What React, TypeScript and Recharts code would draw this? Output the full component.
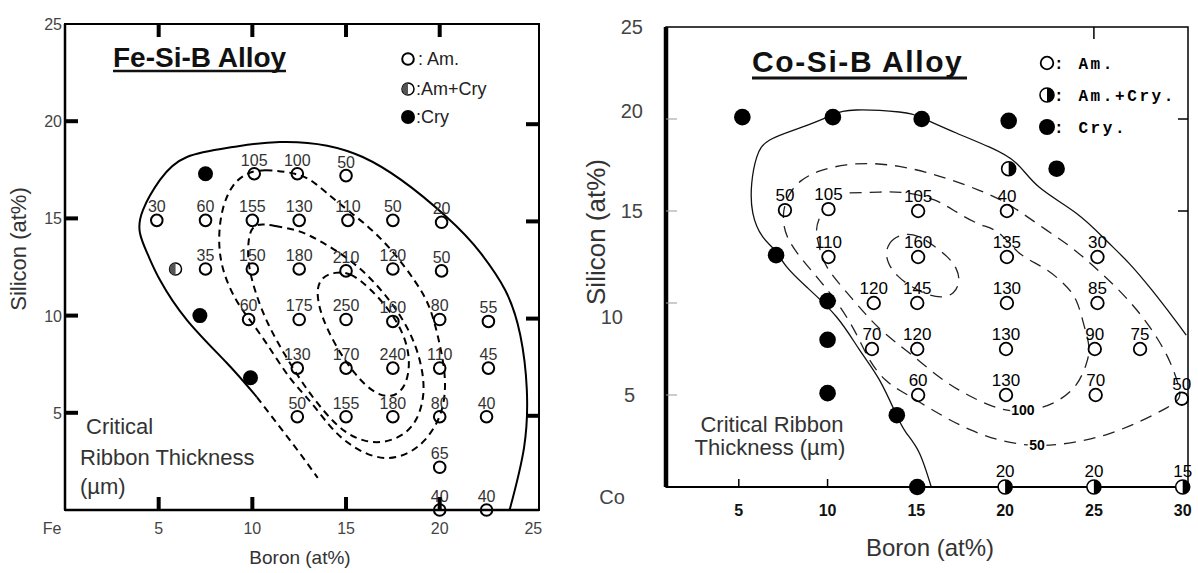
import React from "react";
import { ScatterChart, Scatter, XAxis, YAxis, ReferenceArea, Legend } from "recharts";

const SANS = "'Liberation Sans', Arial, sans-serif";
const MONO = "'Liberation Mono', 'DejaVu Sans Mono', monospace";

// ---------- Fe-Si-B (left panel) ----------
const feTicksX = [5, 10, 15, 20, 25];
const feTicksY = [0, 5, 10, 15, 20, 25];
const feFrameTicks = [5, 10, 15, 20];

// amorphous samples: boron, silicon, critical thickness (um)
const feAm = [
  { x: 10.1, y: 17.3, t: "105" }, { x: 12.4, y: 17.3, t: "100" }, { x: 15, y: 17.2, t: "50" },
  { x: 4.9, y: 14.9, t: "30" }, { x: 7.5, y: 14.9, t: "60" }, { x: 10, y: 14.9, t: "155" },
  { x: 12.5, y: 14.9, t: "130" }, { x: 15.1, y: 14.9, t: "110" }, { x: 17.5, y: 14.9, t: "50" },
  { x: 20.1, y: 14.8, t: "20" },
  { x: 7.5, y: 12.4, t: "35" }, { x: 10, y: 12.4, t: "150" }, { x: 12.5, y: 12.4, t: "180" },
  { x: 15, y: 12.3, t: "210" }, { x: 17.5, y: 12.4, t: "120" }, { x: 20.1, y: 12.3, t: "50" },
  { x: 9.8, y: 9.8, t: "60" }, { x: 12.5, y: 9.8, t: "175" }, { x: 15, y: 9.8, t: "250" },
  { x: 17.5, y: 9.7, t: "160" }, { x: 20, y: 9.8, t: "80" }, { x: 22.6, y: 9.7, t: "55" },
  { x: 12.4, y: 7.3, t: "130" }, { x: 15, y: 7.3, t: "170" }, { x: 17.5, y: 7.3, t: "240" },
  { x: 20, y: 7.3, t: "110" }, { x: 22.6, y: 7.3, t: "45" },
  { x: 12.4, y: 4.8, t: "50" }, { x: 15, y: 4.8, t: "155" }, { x: 17.5, y: 4.8, t: "180" },
  { x: 20, y: 4.8, t: "80" }, { x: 22.5, y: 4.8, t: "40" },
  { x: 20, y: 2.2, t: "65" }, { x: 20, y: 0, t: "40" }, { x: 22.5, y: 0, t: "40" },
];
const feAmCry = [{ x: 5.9, y: 12.4 }];
const feCry = [{ x: 7.5, y: 17.3 }, { x: 7.2, y: 10 }, { x: 9.9, y: 6.8 }];

// glass-forming boundary (solid) and its dashed tail
const feEdge = [
  [10.24, 5.81], [8.64, 7.56], [6.51, 9.77], [5.07, 11.83], [4.43, 13.12], [4.0, 14.25],
  [4.16, 15.43], [5.07, 16.98], [6.51, 18.16], [8.96, 18.67], [11.47, 18.93], [15.89, 18.16],
  [20.37, 15.07], [22.2, 13.2], [23.5, 11.3], [24.3, 9.0], [24.65, 6.2], [24.5, 3.2], [23.73, 0],
];
const feEdgeTail = [[10.24, 5.81], [12.53, 2.93], [13.49, 1.65]];
// iso-thickness contours
const feC1 = [
  [9.71, 17.34], [10.51, 17.54], [12.43, 17.34], [13.33, 16.87], [14.51, 15.84], [16.27, 14.56],
  [17.6, 13.22], [18.77, 11.68], [19.47, 10.55], [19.9, 9.0], [20.27, 7.3], [20.32, 5.92],
  [20.0, 4.63], [19.2, 3.5], [18.4, 2.93], [17.33, 2.57], [16.11, 2.83], [15.04, 3.45],
  [14.13, 4.27], [13.07, 5.66], [12.0, 6.69], [10.77, 8.59], [9.87, 9.77], [9.07, 10.8],
  [8.37, 12.35], [8.16, 13.89], [8.37, 15.59], [8.96, 16.82],
];
const feC2 = [
  [10.03, 14.81], [11.2, 14.61], [12.53, 14.4], [13.71, 13.79], [15.04, 13.01], [16.27, 11.99],
  [17.33, 10.8], [18.13, 9.67], [18.72, 8.49], [19.09, 7.2], [19.2, 5.92], [18.83, 4.63],
  [18.13, 3.86], [17.07, 3.45], [16.0, 3.5], [14.93, 3.96], [13.87, 4.99], [12.8, 6.33],
  [11.73, 7.97], [10.83, 9.52], [10.19, 11.06], [9.76, 12.6], [9.76, 13.89],
];
const feC3 = [
  [14.4, 12.24], [15.2, 12.24], [16.27, 11.42], [17.33, 10.29], [18.13, 9.0], [18.45, 7.61],
  [18.19, 6.28], [17.44, 5.76], [16.53, 5.97], [15.47, 6.94], [14.4, 8.49], [13.65, 10.03],
  [13.39, 11.32], [13.71, 11.99],
];

// ---------- Co-Si-B (right panel) ----------
const coTicksX = [5, 10, 15, 20, 25, 30];
const coTicksY = [0, 5, 10, 15, 20, 25];

const coAm = [
  { x: 7.6, y: 15.05, t: "50" }, { x: 10.05, y: 15.1, t: "105" }, { x: 15.1, y: 15, t: "105" },
  { x: 20.1, y: 15, t: "40" },
  { x: 10.05, y: 12.5, t: "110" }, { x: 15.1, y: 12.5, t: "160" }, { x: 20.1, y: 12.5, t: "135" },
  { x: 25.2, y: 12.5, t: "30" },
  { x: 12.6, y: 10, t: "120" }, { x: 15.05, y: 10, t: "145" }, { x: 20.1, y: 10, t: "130" },
  { x: 25.2, y: 10, t: "85" },
  { x: 12.5, y: 7.5, t: "70" }, { x: 15.05, y: 7.5, t: "120" }, { x: 20.05, y: 7.5, t: "130" },
  { x: 25.05, y: 7.5, t: "90" }, { x: 27.6, y: 7.5, t: "75" },
  { x: 15.1, y: 5, t: "60" }, { x: 20.05, y: 5, t: "130" }, { x: 25.1, y: 5, t: "70" },
  { x: 29.95, y: 4.8, t: "50" },
];
const coAmCry = [
  { x: 20.2, y: 17.3, t: "" }, { x: 20, y: 0, t: "20" }, { x: 25, y: 0, t: "20" }, { x: 30, y: 0, t: "15" },
];
const coCry = [
  { x: 5.2, y: 20.1 }, { x: 10.3, y: 20.1 }, { x: 15.3, y: 20 }, { x: 20.2, y: 19.9 },
  { x: 22.9, y: 17.3 }, { x: 7.1, y: 12.6 }, { x: 10, y: 10.1 }, { x: 10, y: 8 },
  { x: 10, y: 5.1 }, { x: 13.9, y: 3.9 }, { x: 15.05, y: 0 },
];
const coEdge = [
  [15.84, 0], [15.17, 1.85], [14.44, 2.93], [13.88, 3.91], [12.92, 5.82], [11.8, 7.45],
  [10.51, 9.24], [8.82, 10.87], [7.7, 11.96], [7.02, 12.88], [6.35, 13.59], [5.79, 14.89],
  [5.73, 16.52], [6.01, 17.93], [6.74, 18.86], [8.6, 19.57], [10.28, 20.22], [11.63, 20.49],
  [14.04, 20.38], [15.34, 20.05], [17.25, 19.24], [19.1, 18.48], [20.62, 17.61], [21.91, 16.3],
  [23.99, 14.89], [25.67, 13.42], [26.97, 12.17], [28.26, 10.71], [29.49, 9.18], [30.2, 8.26],
];
const coD50 = [
  [29.94, 4.78], [29.78, 5.54], [29.33, 6.79], [28.65, 7.99], [27.81, 9.18], [26.85, 10.27],
  [25.84, 11.25], [24.72, 12.23], [23.6, 13.15], [22.3, 13.97], [20.96, 14.89], [19.83, 15.6],
  [18.54, 16.14], [17.02, 16.68], [15.56, 17.12], [14.04, 17.45], [12.53, 17.61], [11.07, 17.55],
  [9.55, 17.23], [8.43, 16.68], [7.75, 15.87], [7.42, 14.78], [7.64, 13.59], [8.43, 12.5],
  [9.55, 11.25], [10.67, 9.89], [11.63, 8.37], [12.36, 6.79], [13.3, 5.7], [14.04, 5.27],
  [15.17, 4.62], [16.57, 3.8], [17.98, 3.1], [19.66, 2.5], [21.74, 2.17], [23.88, 2.39],
  [25.84, 2.83], [27.81, 3.64], [29.21, 4.35],
];
const coD100 = [
  [11.24, 15.98], [12.92, 16.03], [14.44, 15.98], [16.01, 15.6], [17.25, 14.95], [18.54, 14.29],
  [19.66, 13.8], [20.79, 12.72], [22.08, 11.96], [23.2, 11.14], [23.99, 10.16], [24.44, 8.8],
  [24.72, 7.61], [24.55, 6.63], [23.99, 5.54], [23.03, 4.73], [21.91, 4.29], [20.51, 4.13],
  [19.1, 4.46], [17.7, 5.11], [16.29, 5.98], [14.61, 7.28], [13.2, 8.37], [12.08, 9.46],
  [10.96, 10.71], [10.0, 11.9], [9.55, 12.99], [9.38, 13.97], [9.55, 14.62],
];
const coD150 = [
  [14.44, 13.8], [13.65, 13.53], [13.26, 12.88], [13.37, 12.17], [13.88, 11.47], [14.72, 10.87],
  [15.62, 10.43], [16.46, 10.27], [17.13, 10.49], [17.47, 11.14], [17.3, 11.9], [16.74, 12.55],
  [16.01, 13.1], [15.17, 13.64],
];
const coContourTags = [{ x: 21.0, y: 4.18, t: "100" }, { x: 21.8, y: 2.28, t: "50" }];

const pts = (a: number[][]) => a.map(([x, y]) => ({ x, y }));

// layout (px)
const FE = { w: 560, top: 24, right: 21, xh: 63, yw: 65, x0: 0, x1: 25.3 };
const CO = { left: 580, w: 618, top: 27, right: 10, xh: 86, yw: 86, x0: 0.9, x1: 30.3 };
const H = 573;

// plot-box geometry on the page, matching the chart margins above
const feBox = { l: FE.yw, r: FE.w - FE.right, t: FE.top, b: H - FE.xh };
const coBox = { l: CO.left + CO.yw, r: CO.left + CO.w - CO.right, t: CO.top, b: H - CO.xh };
const feX = (v: number) => feBox.l + ((v - FE.x0) / (FE.x1 - FE.x0)) * (feBox.r - feBox.l);
const feY = (v: number) => feBox.b - (v / 25) * (feBox.b - feBox.t);
const coX = (v: number) => coBox.l + ((v - CO.x0) / (CO.x1 - CO.x0)) * (coBox.r - coBox.l);
const coY = (v: number) => coBox.b - (v / 25) * (coBox.b - coBox.t);

const noDot = () => <g />;

const feOpen = (p: any) => (
  <g>
    <circle cx={p.cx} cy={p.cy} r={5.8} fill="none" stroke="#000" strokeWidth={2} />
    <text x={p.cx} y={p.cy - 8} textAnchor="middle" fontSize={16} fill="#333" fontFamily={SANS}>
      {p.payload?.t}
    </text>
  </g>
);
const feHalf = (p: any) => (
  <g>
    <circle cx={p.cx} cy={p.cy} r={6} fill="#fff" stroke="#000" strokeWidth={1.5} />
    <path d={`M ${p.cx} ${p.cy - 6} A 6 6 0 0 0 ${p.cx} ${p.cy + 6} Z`} fill="#555" />
  </g>
);
const feFilled = (p: any) => <circle cx={p.cx} cy={p.cy} r={7.5} fill="#000" />;

const coOpen = (p: any) => (
  <g>
    <circle cx={p.cx} cy={p.cy} r={6.3} fill="none" stroke="#000" strokeWidth={1.8} />
    {p.payload?.t ? (
      <text x={p.cx} y={p.cy - 9} textAnchor="middle" fontSize={17} fill="#000" fontFamily={SANS}>
        {p.payload.t}
      </text>
    ) : null}
  </g>
);
const coHalf = (p: any) => (
  <g>
    <circle cx={p.cx} cy={p.cy} r={7} fill="#fff" stroke="#000" strokeWidth={1.6} />
    <path d={`M ${p.cx} ${p.cy - 7} A 7 7 0 0 1 ${p.cx} ${p.cy + 7} Z`} fill="#000" />
    {p.payload?.t ? (
      <text x={p.cx} y={p.cy - 10} textAnchor="middle" fontSize={17} fill="#000" fontFamily={SANS}>
        {p.payload.t}
      </text>
    ) : null}
  </g>
);
const coFilled = (p: any) => <circle cx={p.cx} cy={p.cy} r={8.3} fill="#000" />;
const coTag = (p: any) => (
  <text x={p.cx} y={p.cy + 5} textAnchor="middle" fontSize={14} fontWeight="bold" fill="#000"
    stroke="#fff" strokeWidth={4} paintOrder="stroke" fontFamily={SANS}>
    {p.payload?.t}
  </text>
);

function FeXTick(p: any) {
  return (
    <text x={p.x} y={p.y + 24} textAnchor="middle" fontSize={16} fill="#444" fontFamily={SANS}>
      {p.payload.value}
    </text>
  );
}
function FeYTick(p: any) {
  const v = p.payload.value;
  if (v === 0)
    return <text x={p.x - 13} y={p.y + 24} textAnchor="middle" fontSize={16} fill="#444" fontFamily={SANS}>Fe</text>;
  return <text x={p.x - 3} y={p.y + 6} textAnchor="end" fontSize={16} fill="#444" fontFamily={SANS}>{v}</text>;
}
function CoXTick(p: any) {
  return (
    <text x={p.x} y={p.y + 29} textAnchor="middle" fontSize={16} fontWeight="bold" fill="#111" fontFamily={SANS}>
      {p.payload.value}
    </text>
  );
}
const coYShift: Record<number, number[]> = { 20: [0, -8], 10: [-20, 14], 5: [-8, 0] };
function CoYTick(p: any) {
  const v = p.payload.value;
  if (v === 0)
    return <text x={p.x - 54} y={p.y + 17} textAnchor="middle" fontSize={20} fill="#444" fontFamily={SANS}>Co</text>;
  const [dx, dy] = coYShift[v] || [0, 0];
  return <text x={p.x - 23 + dx} y={p.y + 7 + dy} textAnchor="end" fontSize={20} fill="#444" fontFamily={SANS}>{v}</text>;
}

const FeLegend = () => (
  <svg width={130} height={90} style={{ overflow: "visible" }}>
    <circle cx={10} cy={15} r={5.8} fill="none" stroke="#000" strokeWidth={2} />
    <text x={20} y={21} fontSize={18} fill="#222" fontFamily={SANS}>: Am.</text>
    <circle cx={10} cy={45} r={6} fill="#fff" stroke="#000" strokeWidth={1.5} />
    <path d="M 10 39 A 6 6 0 0 0 10 51 Z" fill="#555" />
    <text x={18} y={51} fontSize={18} fill="#222" fontFamily={SANS}>:Am+Cry</text>
    <circle cx={10} cy={73} r={7} fill="#000" />
    <text x={18} y={79} fontSize={18} fill="#222" fontFamily={SANS}>:Cry</text>
  </svg>
);
const CoLegend = () => (
  <svg width={150} height={90} style={{ overflow: "visible" }}>
    <circle cx={7} cy={13} r={6.3} fill="none" stroke="#000" strokeWidth={1.8} />
    <text x={14} y={19} fontSize={16} fontWeight="bold" letterSpacing={2.6} fill="#000" fontFamily={MONO}>: Am.</text>
    <circle cx={7} cy={45} r={7} fill="#fff" stroke="#000" strokeWidth={1.6} />
    <path d="M 7 38 A 7 7 0 0 1 7 52 Z" fill="#000" />
    <text x={14} y={51} fontSize={16} fontWeight="bold" letterSpacing={2.6} fill="#000" fontFamily={MONO}>: Am.+Cry.</text>
    <circle cx={7} cy={77} r={8} fill="#000" />
    <text x={14} y={83} fontSize={16} fontWeight="bold" letterSpacing={2.6} fill="#000" fontFamily={MONO}>: Cry.</text>
  </svg>
);

const feDash = { stroke: "#000", strokeWidth: 2, strokeDasharray: "7 5" };
const coDash = { stroke: "#222", strokeWidth: 1.3, strokeDasharray: "12 8" };

export default function App() {
  return (
    <div style={{ position: "absolute", left: 0, top: 0, width: 1198, height: H, background: "#fff", overflow: "hidden" }}>
      <div style={{ position: "absolute", left: 0, top: 0 }}>
        <ScatterChart width={FE.w} height={H} margin={{ top: FE.top, right: FE.right, bottom: 0, left: 0 }}>
          <XAxis type="number" dataKey="x" domain={[FE.x0, FE.x1]} ticks={feTicksX} interval={0} height={FE.xh}
            tickLine={false} tickSize={0} tickMargin={0} tick={FeXTick} axisLine={{ stroke: "#000", strokeWidth: 2.5 }} />
          <YAxis type="number" dataKey="y" domain={[0, 25]} ticks={feTicksY} interval={0} width={FE.yw}
            tickLine={false} tickSize={0} tickMargin={0} tick={FeYTick} axisLine={{ stroke: "#000", strokeWidth: 2.5 }} />
          <ReferenceArea x1={FE.x0} x2={FE.x1} y1={0} y2={25} fill="none" stroke="#000" strokeWidth={2} fillOpacity={0} />
          <Scatter data={pts(feEdge)} line={{ stroke: "#000", strokeWidth: 2 }} lineJointType="natural" shape={noDot} isAnimationActive={false} />
          <Scatter data={pts(feEdgeTail)} line={feDash} lineJointType="linear" shape={noDot} isAnimationActive={false} />
          <Scatter data={pts(feC1)} line={feDash} lineJointType="basisClosed" shape={noDot} isAnimationActive={false} />
          <Scatter data={pts(feC2)} line={feDash} lineJointType="basisClosed" shape={noDot} isAnimationActive={false} />
          <Scatter data={pts(feC3)} line={feDash} lineJointType="basisClosed" shape={noDot} isAnimationActive={false} />
          <Scatter data={feAm} shape={feOpen} isAnimationActive={false} />
          <Scatter data={feAmCry} shape={feHalf} isAnimationActive={false} />
          <Scatter data={feCry} shape={feFilled} isAnimationActive={false} />
          <Legend content={FeLegend} layout="vertical" align="center" verticalAlign="middle"
            wrapperStyle={{ left: 398, top: 44, width: 130, height: 90 }} />
        </ScatterChart>
      </div>
      <div style={{ position: "absolute", left: CO.left, top: 0 }}>
        <ScatterChart width={CO.w} height={H} margin={{ top: CO.top, right: CO.right, bottom: 0, left: 0 }}>
          <XAxis type="number" dataKey="x" domain={[CO.x0, CO.x1]} ticks={coTicksX} interval={0} height={CO.xh}
            tickLine={false} tickSize={0} tickMargin={0} tick={CoXTick} axisLine={{ stroke: "#000", strokeWidth: 2 }} />
          <YAxis type="number" dataKey="y" domain={[0, 25]} ticks={coTicksY} interval={0} width={CO.yw}
            tickLine={false} tickSize={0} tickMargin={0} tick={CoYTick} axisLine={{ stroke: "#000", strokeWidth: 4.5 }} />
          <ReferenceArea x1={CO.x0} x2={CO.x1} y1={0} y2={25} fill="none" stroke="#000" strokeWidth={1.5} fillOpacity={0} />
          <Scatter data={pts(coEdge)} line={{ stroke: "#111", strokeWidth: 1.3 }} lineJointType="natural" shape={noDot} isAnimationActive={false} />
          <Scatter data={pts(coD50)} line={coDash} lineJointType="basisClosed" shape={noDot} isAnimationActive={false} />
          <Scatter data={pts(coD100)} line={coDash} lineJointType="natural" shape={noDot} isAnimationActive={false} />
          <Scatter data={pts(coD150)} line={coDash} lineJointType="basisClosed" shape={noDot} isAnimationActive={false} />
          <Scatter data={coContourTags} shape={coTag} isAnimationActive={false} />
          <Scatter data={coAm} shape={coOpen} isAnimationActive={false} />
          <Scatter data={coAmCry} shape={coHalf} isAnimationActive={false} />
          <Scatter data={coCry} shape={coFilled} isAnimationActive={false} />
          <Legend content={CoLegend} layout="vertical" align="center" verticalAlign="middle"
            wrapperStyle={{ left: 460, top: 50, width: 150, height: 90 }} />
        </ScatterChart>
      </div>
      <svg width={1198} height={H} style={{ position: "absolute", left: 0, top: 0, pointerEvents: "none" }} fontFamily={SANS}>
        {/* inward frame ticks */}
        {feFrameTicks.map((v) => (
          <g key={`fe${v}`} stroke="#000" strokeWidth={4}>
            <line x1={feX(v)} x2={feX(v)} y1={feBox.b} y2={feBox.b - 13} />
            <line x1={feX(v)} x2={feX(v)} y1={feBox.t} y2={feBox.t + 13} />
            <line x1={feBox.l} x2={feBox.l + 13} y1={feY(v)} y2={feY(v)} />
            <line x1={feBox.r} x2={feBox.r - 13} y1={feY(v) + 3} y2={feY(v) + 3} />
          </g>
        ))}
        {[5, 10].map((v) => (
          <line key={`cb${v}`} x1={coX(v)} x2={coX(v)} y1={coBox.b} y2={coBox.b - 8} stroke="#000" strokeWidth={1.5} />
        ))}
        {[5, 10, 15, 20].map((v) => (
          <line key={`cl${v}`} x1={coBox.l} x2={coBox.l + 11} y1={coY(v)} y2={coY(v)} stroke="#999" strokeWidth={1} />
        ))}
        {[15, 20].map((v) => (
          <line key={`cr${v}`} x1={coBox.r} x2={coBox.r - 10} y1={coY(v)} y2={coY(v)} stroke="#000" strokeWidth={1.5} />
        ))}
        <line x1={coX(25)} x2={coX(25)} y1={coBox.t} y2={coBox.t + 12} stroke="#000" strokeWidth={1.5} />

        <text x={113} y={67} fontSize={28} fontWeight="bold" fill="#111">Fe-Si-B Alloy</text>
        <line x1={113} x2={286} y1={71} y2={71} stroke="#111" strokeWidth={2.5} />
        <text x={752} y={72} fontSize={30} fontWeight="bold" fill="#111" letterSpacing={1.6}>Co-Si-B Alloy</text>
        <line x1={752} x2={967} y1={78} y2={78} stroke="#111" strokeWidth={3} />
        <text transform="translate(26 249) rotate(-90)" textAnchor="middle" fontSize={22} fill="#333">Silicon (at%)</text>
        <text x={300} y={564} textAnchor="middle" fontSize={19} fill="#333">Boron (at%)</text>
        <text transform="translate(605 232) rotate(-90)" textAnchor="middle" fontSize={26} fill="#333">Silicon (at%)</text>
        <text x={930} y={556} textAnchor="middle" fontSize={24} fill="#333">Boron (at%)</text>
        <text x={86} y={434} fontSize={22} fill="#333">Critical</text>
        <text x={80} y={465} fontSize={22} fill="#333">Ribbon Thickness</text>
        <text x={80} y={494} fontSize={22} fill="#333">(µm)</text>
        <text x={772} y={432} textAnchor="middle" fontSize={22} fill="#333">Critical Ribbon</text>
        <text x={770} y={455} textAnchor="middle" fontSize={22} fill="#333">Thickness (µm)</text>
      </svg>
    </div>
  );
}
